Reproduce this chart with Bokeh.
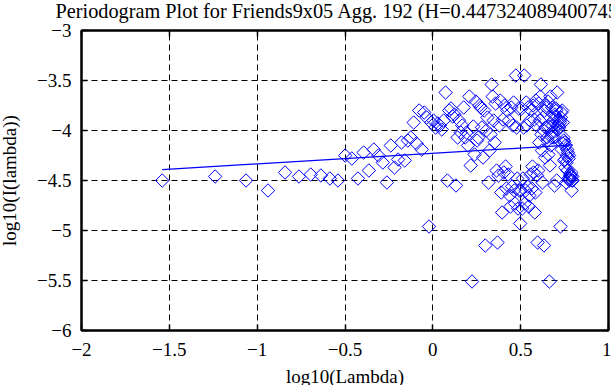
import numpy as np
from bokeh.plotting import figure
from bokeh.models import Range1d, FixedTicker, LinearAxis, ColumnDataSource
from bokeh.embed import file_html
from bokeh.resources import INLINE

# ---- data ----
TITLE = "Periodogram Plot for Friends9x05 Agg. 192 (H=0.447324089400745)"
X_LABEL = "log10(Lambda)"
Y_LABEL = "log10(I(lambda))"
H_EST = 0.447324089400745
FIT_INTERCEPT = -4.228
SERIES_LEN = 218  # Fourier frequencies 2*pi*k/n, k = 1..n-1

log_periodogram = [
    -4.50, -4.46, -4.50, -4.60, -4.42, -4.46, -4.44, -4.45, -4.48, -4.50,
    -4.25, -4.28, -4.48, -4.22, -4.40, -4.19, -4.25, -4.32, -4.52, -4.15,
    -4.37, -4.29, -4.12, -4.30, -4.10, -4.07, -3.92, -4.13, -3.80, -4.19,
    -3.82, -3.87, -4.96, -3.92, -3.90, -3.97, -3.93, -3.95, -3.99, -3.90,
    -3.62, -4.50, -3.80, -3.78, -3.86, -3.84, -4.55, -4.07, -3.90, -4.02,
    -3.95, -3.77, -4.07, -4.02, -4.15, -3.66, -4.35, -5.51, -3.96, -4.24,
    -3.71, -4.10, -4.07, -3.75, -3.77, -3.97, -4.27, -3.80, -5.15, -4.00,
    -3.87, -4.52, -4.20, -4.04, -3.54, -3.66, -3.90, -4.12, -3.73, -4.40,
    -5.12, -4.45, -3.95, -3.70, -4.62, -4.82, -3.89, -4.42, -3.75, -4.36,
    -4.58, -3.80, -4.44, -3.90, -4.65, -4.76, -3.77, -4.56, -3.95, -3.72,
    -4.60, -4.73, -3.45, -3.97, -4.48, -4.78, -3.78, -4.60, -4.93,
    -4.60, -3.78, -4.78, -4.48, -3.97, -3.45, -4.73, -4.60,
    -3.72, -3.95, -4.56, -3.77, -4.76, -4.65, -3.90, -4.44, -3.80, -4.58,
    -4.36, -3.75, -4.42, -3.89, -4.82, -4.62, -3.70, -3.95, -4.45, -5.12,
    -4.40, -3.73, -4.12, -3.90, -3.66, -3.54, -4.04, -4.20, -4.52, -3.87,
    -4.00, -5.15, -3.80, -4.27, -3.97, -3.77, -3.75, -4.07, -4.10, -3.71,
    -4.24, -3.96, -5.51, -4.35, -3.66, -4.15, -4.02, -4.07, -3.77, -3.95,
    -4.02, -3.90, -4.07, -4.55, -3.84, -3.86, -3.78, -3.80, -4.50, -3.62,
    -3.90, -3.99, -3.95, -3.93, -3.97, -3.90, -3.92, -4.96, -3.87, -3.82,
    -4.19, -3.80, -4.13, -3.92, -4.07, -4.10, -4.30, -4.12, -4.29, -4.37,
    -4.15, -4.52, -4.32, -4.25, -4.19, -4.40, -4.22, -4.48, -4.28, -4.25,
    -4.50, -4.48, -4.45, -4.44, -4.46, -4.42, -4.60, -4.50, -4.46, -4.50,
]

X_MIN, X_MAX = -2, 1
Y_MIN, Y_MAX = -6, -3
x_ticks = [-2, -1.5, -1, -0.5, 0, 0.5, 1]
x_tick_labels = ["\u22122", "\u22121.5", "\u22121", "\u22120.5", "0", "0.5", "1"]
y_ticks = [-6, -5.5, -5, -4.5, -4, -3.5, -3]
y_tick_labels = ["\u22126", "\u22125.5", "\u22125", "\u22124.5", "\u22124", "\u22123.5", "\u22123"]

freq = np.arange(1, SERIES_LEN) * 2 * np.pi / SERIES_LEN
log_lambda = np.log10(freq)
src = ColumnDataSource(dict(x=log_lambda, y=np.array(log_periodogram)))

slope = 1 - 2 * H_EST
fit_x = np.array([log_lambda[0], log_lambda[-1]])
fit_y = FIT_INTERCEPT + slope * fit_x

FONT = "Liberation Serif"
BLUE = "#0000ff"

p = figure(frame_width=527, frame_height=300,
           x_range=Range1d(X_MIN, X_MAX), y_range=Range1d(Y_MIN, Y_MAX),
           output_backend="svg", toolbar_location=None,
           min_border_left=88, min_border_right=3, min_border_top=41, min_border_bottom=55)
# the original image is cropped tightly: title and y label touch its edges
p.styles = {"margin-top": "-11px", "margin-left": "-7px"}

p.title.text = TITLE
p.title.text_font = FONT
p.title.text_font_size = "20.3px"
p.title.text_font_style = "normal"
p.title.text_color = "black"
p.title.align = "left"
p.title.offset = -26
p.title.standoff = 17

p.background_fill_color = "white"
p.border_fill_color = "white"
p.outline_line_color = "black"
p.outline_line_width = 2

def style_axis(ax, ticks, labels):
    ax.ticker = FixedTicker(ticks=ticks)
    ax.axis_line_color = "black"
    ax.axis_line_width = 2
    ax.major_tick_in = 6
    ax.major_tick_out = 0
    ax.major_tick_line_color = "black"
    ax.major_tick_line_width = 1.5
    ax.minor_tick_line_color = None
    if labels is not None:
        ax.major_label_overrides = dict(zip(ticks, labels))
        ax.major_label_text_font = FONT
        ax.major_label_text_font_size = "19px"
        ax.major_label_text_color = "black"
        ax.axis_label_text_font = FONT
        ax.axis_label_text_font_size = "19px"
        ax.axis_label_text_font_style = "normal"
        ax.axis_label_text_color = "black"
    else:
        ax.major_label_overrides = {t: "" for t in ticks}
        ax.major_label_text_font_size = "1px"
        ax.major_label_standoff = 0

xa = p.xaxis[0]
style_axis(xa, x_ticks, x_tick_labels)
xa.axis_label = X_LABEL
xa.major_label_standoff = 12
xa.axis_label_standoff = 7

ya = p.yaxis[0]
style_axis(ya, y_ticks, y_tick_labels)
ya.axis_label = Y_LABEL
ya.major_label_standoff = 10
ya.axis_label_standoff = 14

ra = LinearAxis()
style_axis(ra, y_ticks, None)
p.add_layout(ra, "right")
ta = LinearAxis()
style_axis(ta, x_ticks, None)
p.add_layout(ta, "above")

for g in (p.xgrid[0], p.ygrid[0]):
    g.grid_line_color = "black"
    g.grid_line_dash = "6 4"
    g.grid_line_width = 1
p.xgrid[0].ticker = FixedTicker(ticks=x_ticks)
p.ygrid[0].ticker = FixedTicker(ticks=y_ticks)

p.scatter("x", "y", source=src, marker="square", size=9.5, angle=np.pi / 4,
          line_color=BLUE, fill_color=None, line_width=1)
p.line(fit_x, fit_y, line_color=BLUE, line_width=1.2)

open("out.html", "w").write(file_html(p, INLINE))
